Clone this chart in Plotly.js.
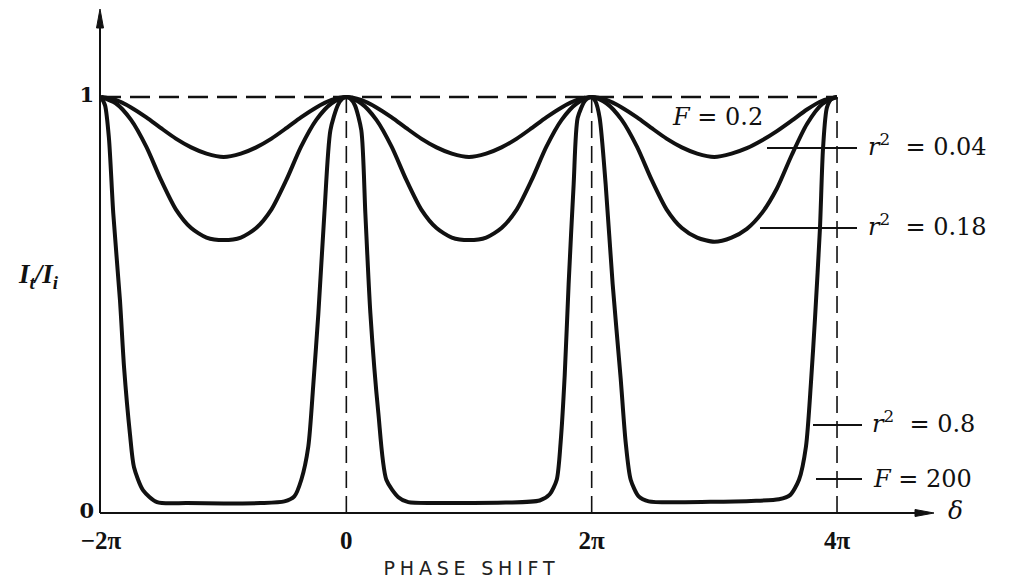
<!DOCTYPE html>
<html>
<head>
<meta charset="utf-8">
<script src="https://cdn.plot.ly/plotly-3.0.1.min.js"></script>
<style>html,body{margin:0;padding:0;background:#fff;}</style>
</head>
<body>
<div id="chart" style="width:1010px;height:586px;"></div>
<script>
// Phase shift δ, in units of π
const deltaUpper = [-2, -1.88, -1.755, -1.63, -1.51, -1.39, -1.265, -1.14, -1,
  -0.86, -0.735, -0.61, -0.49, -0.37, -0.245, -0.12, 0,
  0.12, 0.245, 0.37, 0.49, 0.61, 0.735, 0.86, 1,
  1.14, 1.265, 1.39, 1.51, 1.63, 1.755, 1.88, 2,
  2.12, 2.245, 2.37, 2.49, 2.61, 2.735, 2.86, 3,
  3.14, 3.265, 3.39, 3.51, 3.63, 3.755, 3.88, 4];

// I_t / I_i for F = 0.2 (r^2 = 0.04)
const transF02 = [1, 0.993, 0.975, 0.951, 0.925, 0.9, 0.879, 0.864, 0.856,
  0.864, 0.879, 0.9, 0.925, 0.951, 0.975, 0.993, 1,
  0.993, 0.975, 0.951, 0.925, 0.9, 0.879, 0.864, 0.856,
  0.864, 0.879, 0.9, 0.925, 0.951, 0.975, 0.993, 1,
  0.993, 0.975, 0.951, 0.925, 0.9, 0.879, 0.864, 0.856,
  0.864, 0.877, 0.896, 0.918, 0.943, 0.97, 0.991, 1];

// I_t / I_i for r^2 = 0.18
const transR018 = [1, 0.985, 0.945, 0.88, 0.80, 0.73, 0.685, 0.662, 0.656,
  0.662, 0.685, 0.73, 0.80, 0.88, 0.945, 0.985, 1,
  0.985, 0.945, 0.88, 0.80, 0.73, 0.685, 0.662, 0.656,
  0.662, 0.685, 0.73, 0.80, 0.88, 0.945, 0.985, 1,
  0.985, 0.945, 0.88, 0.80, 0.73, 0.685, 0.662, 0.652,
  0.662, 0.683, 0.722, 0.78, 0.86, 0.935, 0.983, 1];

// Phase shift δ (units of π) for the high-finesse curve
const deltaLow = [-2, -1.967, -1.935, -1.9, -1.845, -1.812, -1.764, -1.731, -1.658, -1.543, -1.3, -1,
  -0.7, -0.505, -0.424, -0.367, -0.31, -0.269, -0.228, -0.179, -0.13, -0.07, -0.033, 0,
  0.033, 0.07, 0.122, 0.155, 0.196, 0.261, 0.326, 0.424, 0.505, 0.75, 1,
  1.3, 1.576, 1.658, 1.715, 1.747, 1.78, 1.812, 1.853, 1.886, 1.943, 1.975, 2,
  2.03, 2.065, 2.114, 2.171, 2.236, 2.277, 2.318, 2.383, 2.465, 2.75, 3,
  3.3, 3.527, 3.617, 3.69, 3.747, 3.788, 3.821, 3.861, 3.886, 3.918, 3.96, 4];

// I_t / I_i for r^2 = 0.8 (F = 200)
const transR08 = [1, 0.98, 0.9, 0.72, 0.51, 0.35, 0.19, 0.11, 0.055, 0.026, 0.024, 0.023,
  0.024, 0.028, 0.04, 0.08, 0.16, 0.31, 0.48, 0.72, 0.92, 0.98, 0.996, 1,
  0.996, 0.98, 0.92, 0.72, 0.48, 0.24, 0.08, 0.038, 0.026, 0.024, 0.024,
  0.025, 0.03, 0.045, 0.08, 0.17, 0.33, 0.55, 0.79, 0.95, 0.99, 0.998, 1,
  0.99, 0.95, 0.79, 0.55, 0.325, 0.17, 0.08, 0.04, 0.028, 0.026, 0.027,
  0.029, 0.033, 0.043, 0.08, 0.16, 0.315, 0.47, 0.685, 0.877, 0.975, 0.997, 1];

const tickVals = [-2, 0, 2, 4];
const tickText = ['\u22122\u03c0', '0', '2\u03c0', '4\u03c0'];
const peakLines = [0, 2, 4];
const yTickVals = [0, 1];
const yTickText = ['0', '1'];

// ---- layout geometry (pixels) ----
const L = 100, R = 940, T = 8, B = 520;
const px = x => (x - L) / (R - L);
const py = y => (B - y) / (B - T);

const ink = '#111';
const lineStyle = {color: ink, width: 4, shape: 'spline', smoothing: 0.7};

const traces = [
  {x: deltaUpper, y: transF02, mode: 'lines', line: lineStyle, name: 'F = 0.2', hoverinfo: 'skip'},
  {x: deltaUpper, y: transR018, mode: 'lines', line: lineStyle, name: 'r² = 0.18', hoverinfo: 'skip'},
  {x: deltaLow, y: transR08, mode: 'lines', line: lineStyle, name: 'r² = 0.8', hoverinfo: 'skip'}
];

const shapes = [];
// dashed reference lines
shapes.push({type: 'line', xref: 'x', yref: 'y', x0: tickVals[0], x1: tickVals[tickVals.length - 1], y0: 1, y1: 1,
  line: {color: ink, width: 2.4, dash: '20px,9px'}});
peakLines.forEach(v => shapes.push({type: 'line', xref: 'x', yref: 'y', x0: v, x1: v, y0: 0, y1: 1,
  line: {color: ink, width: 1.6, dash: '17px,8px'}}));
// axes
shapes.push({type: 'line', xref: 'paper', yref: 'paper', x0: px(100), x1: px(922), y0: py(513), y1: py(513), line: {color: ink, width: 2}});
shapes.push({type: 'line', xref: 'paper', yref: 'paper', x0: px(100), x1: px(100), y0: py(513), y1: py(22), line: {color: ink, width: 2}});
shapes.push({type: 'path', xref: 'paper', yref: 'paper', fillcolor: ink, line: {color: ink, width: 1},
  path: `M ${px(934)},${py(513)} L ${px(915)},${py(509.5)} L ${px(915)},${py(516.5)} Z`});
shapes.push({type: 'path', xref: 'paper', yref: 'paper', fillcolor: ink, line: {color: ink, width: 1},
  path: `M ${px(100)},${py(9)} L ${px(96.5)},${py(28)} L ${px(103.5)},${py(28)} Z`});
// label leader lines
[[767, 857, 148], [760, 857, 228], [813, 862, 425], [816, 862, 479]].forEach(s =>
  shapes.push({type: 'line', xref: 'paper', yref: 'paper', x0: px(s[0]), x1: px(s[1]), y0: py(s[2]), y1: py(s[2]),
    line: {color: ink, width: 2}}));

const serif = 'DejaVu Serif, Liberation Serif, serif';
const lab = (text, x, y, anchor, size, extra) => Object.assign({
  text: text, xref: 'paper', yref: 'paper', x: px(x), y: py(y), xanchor: anchor, yanchor: 'middle',
  showarrow: false, font: {family: serif, size: size, color: ink}
}, extra || {});

const annotations = [
  lab('<i>F</i> = 0.2', 717, 117, 'center', 24),
  lab('<i>r</i><sup>2</sup>\u00a0 = 0.04', 866, 145, 'left', 24),
  lab('<i>r</i><sup>2</sup>\u00a0 = 0.18', 866, 225, 'left', 24),
  lab('<i>r</i><sup>2</sup>\u00a0 = 0.8', 870, 422, 'left', 24),
  lab('<i>F</i> = 200', 871, 479, 'left', 24),
  lab('<i>δ</i>', 955, 510, 'center', 25),
  lab('<b><i>I<sub>t</sub>/I<sub>i</sub></i></b>', 38, 276, 'center', 26, {font: {family: 'Liberation Serif, serif', size: 27, color: ink}}),
  lab('PHASE SHIFT', 471, 568, 'center', 19, {font: {family: 'DejaVu Sans, sans-serif', size: 19, color: '#222'}})
];

const layout = {
  width: 1010, height: 586,
  margin: {l: L, r: 1010 - R, t: T, b: 586 - B, pad: 0},
  paper_bgcolor: '#fff', plot_bgcolor: '#fff',
  showlegend: false,
  xaxis: {
    range: [-2 - 1 / 122.67, -2 + 839 / 122.67],
    tickvals: tickVals, ticktext: tickText, ticks: '',
    showgrid: false, zeroline: false, showline: false,
    tickfont: {family: 'Liberation Serif, serif', size: 25, color: ink, weight: 'bold'},
    ticklabelstandoff: 3, fixedrange: true
  },
  yaxis: {
    range: [-7 / 416, 505 / 416],
    tickvals: yTickVals, ticktext: yTickText, ticks: '',
    showgrid: false, zeroline: false, showline: false,
    tickfont: {family: serif, size: 21, color: ink, weight: 'bold'},
    ticklabelstandoff: 5, ticklabelshift: -2, fixedrange: true
  },
  shapes: shapes,
  annotations: annotations
};

Plotly.newPlot('chart', traces, layout, {staticPlot: true, displayModeBar: false}).then(() => {
  document.querySelectorAll('.annotation-text').forEach(t => {
    if (t.textContent === 'PHASE SHIFT') t.style.letterSpacing = '4.8px';
  });
});
</script>
</body>
</html>
